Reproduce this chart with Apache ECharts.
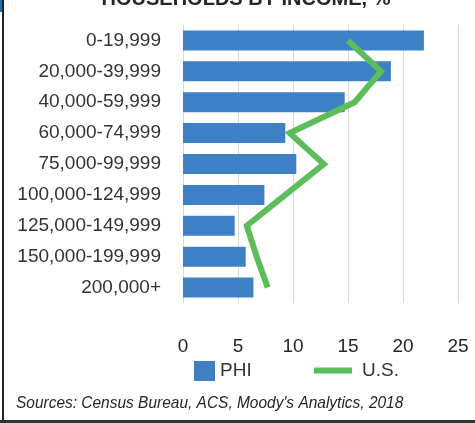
<!DOCTYPE html>
<html>
<head>
<meta charset="utf-8">
<script src="https://cdn.jsdelivr.net/npm/echarts@6/dist/echarts.min.js"></script>
<style>
  html, body { margin: 0; padding: 0; background: #fff; }
  #chart { width: 475px; height: 423px; }
</style>
</head>
<body>
<div id="chart"></div>
<script>
// Household income brackets (top to bottom)
const categories = [
  '0-19,999', '20,000-39,999', '40,000-59,999', '60,000-74,999',
  '75,000-99,999', '100,000-124,999', '125,000-149,999',
  '150,000-199,999', '200,000+'
];
// Share of households, %
const phiValues = [21.9, 18.9, 14.7, 9.3, 10.3, 7.4, 4.7, 5.7, 6.4];
const usValues  = [15.0, 18.0, 15.6, 9.7, 12.8, 9.3, 5.8, 6.7, 7.7];
const xTicks = [0, 5, 10, 15, 20, 25];

const BLUE = '#3d80c6';
const GREEN = '#5dbd5b';
const FONT = 'Liberation Sans, Arial, sans-serif';

const chart = echarts.init(document.getElementById('chart'), null, { renderer: 'canvas' });

chart.setOption({
  animation: false,
  backgroundColor: '#fff',
  grid: { left: 183, right: 17, top: 25, bottom: 120, containLabel: false },
  xAxis: {
    type: 'value',
    min: xTicks[0],
    max: xTicks[xTicks.length - 1],
    interval: xTicks[1] - xTicks[0],
    axisLine: { show: false },
    axisTick: { show: false },
    splitLine: { show: true, lineStyle: { color: '#d9d9d9', width: 1 } },
    axisLabel: { color: '#262626', fontSize: 19, fontFamily: FONT, margin: 34 }
  },
  yAxis: {
    type: 'category',
    data: categories,
    inverse: true,
    axisLine: { show: false },
    axisTick: { show: false },
    axisLabel: { color: '#333', fontSize: 19, fontFamily: FONT, margin: 22 }
  },
  legend: [
    {
      data: ['PHI'],
      left: 189, top: 356,
      itemWidth: 21, itemHeight: 20,
      icon: 'rect',
      textStyle: { color: '#333', fontSize: 19, fontFamily: FONT }
    },
    {
      data: ['U.S.'],
      left: 309, top: 356,
      itemWidth: 38, itemHeight: 6,
      icon: 'rect',
      textStyle: { color: '#333', fontSize: 19, fontFamily: FONT, padding: [0, 0, 0, 5] }
    }
  ],
  series: [
    {
      name: 'PHI',
      type: 'bar',
      data: phiValues,
      barWidth: 20,
      itemStyle: { color: BLUE }
    },
    {
      name: 'U.S.',
      type: 'line',
      data: usValues.map((v, i) => [v, i]),
      showSymbol: false,
      symbol: 'none',
      itemStyle: { color: GREEN },
      lineStyle: { color: GREEN, width: 6, join: 'miter', cap: 'butt' },
      z: 5
    }
  ],
  graphic: [
    {
      type: 'text',
      style: {
        text: 'HOUSEHOLDS BY INCOME, %',
        x: 246, y: 9,
        textAlign: 'center',
        textVerticalAlign: 'bottom',
        fill: '#262626',
        font: 'bold 20px ' + FONT
      }
    },
    {
      type: 'text',
      x: 16, y: 403,
      scaleX: 0.91,
      style: {
        text: "Sources: Census Bureau, ACS, Moody's Analytics, 2018",
        x: 0, y: 0,
        textVerticalAlign: 'middle',
        fill: '#262626',
        font: 'italic 17px ' + FONT
      }
    },
    // frame edges
    { type: 'rect', shape: { x: 2, y: 0, width: 2, height: 423 }, style: { fill: '#222' } },
    { type: 'rect', shape: { x: 0, y: 0, width: 2, height: 12 }, style: { fill: '#1f6fb5' } },
    { type: 'rect', shape: { x: 0, y: 420, width: 475, height: 3 }, style: { fill: '#333' } }
  ]
});
</script>
</body>
</html>
